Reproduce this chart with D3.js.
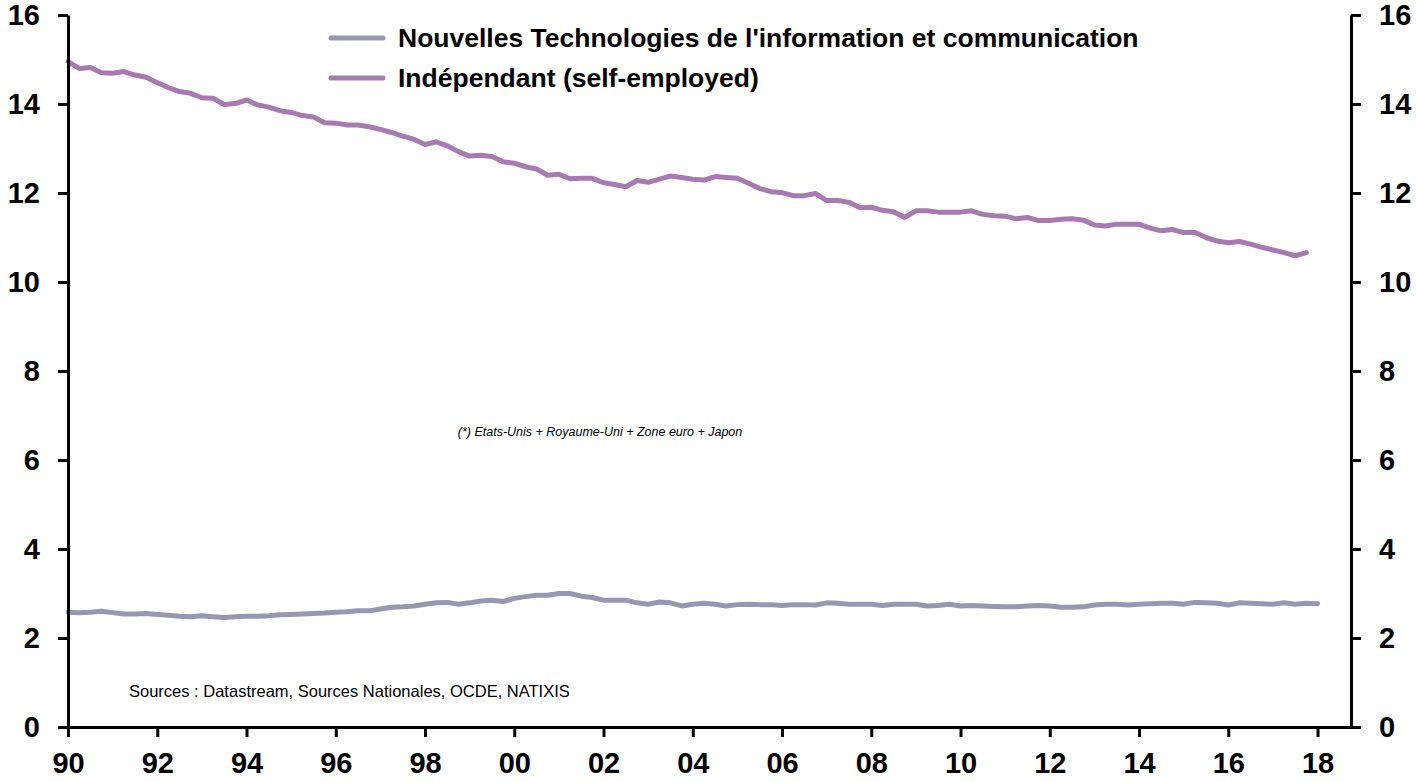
<!DOCTYPE html>
<html>
<head>
<meta charset="utf-8">
<script src="https://cdn.jsdelivr.net/npm/d3@7"></script>
<style>
  body { margin: 0; background: #fff; }
  svg { display: block; font-family: "Liberation Sans", Arial, sans-serif; }
  .axis path, .axis line { stroke: #000; stroke-width: 3; }
  .axis text { font-size: 29px; font-weight: bold; fill: #000; }
  .series { fill: none; stroke-width: 5; stroke-linejoin: round; stroke-linecap: round; }
  .legend text { font-size: 26.5px; font-weight: bold; }
</style>
</head>
<body>
<svg class="chart"></svg>
<script>
const width = 1416;
const height = 782;

// quarterly series, first point = 1990 Q1
const startYear = 1990;

const seriesNames = [
  "Nouvelles Technologies de l'information et communication",
  "Indépendant (self-employed)"
];
const seriesColors = ["#9797b4", "#a77bb1"];

// NTIC share (%), 1990 Q1 - 2018 Q1
const ntic = [
  2.58, 2.57, 2.58, 2.60, 2.57, 2.54, 2.54, 2.55, 2.53, 2.51,
  2.49, 2.48, 2.50, 2.48, 2.46, 2.48, 2.49, 2.49, 2.50, 2.52,
  2.53, 2.54, 2.55, 2.56, 2.58, 2.59, 2.61, 2.61, 2.65, 2.69,
  2.70, 2.72, 2.76, 2.79, 2.80, 2.76, 2.79, 2.83, 2.85, 2.82,
  2.89, 2.93, 2.96, 2.96, 3.00, 3.00, 2.94, 2.91, 2.85, 2.85,
  2.85, 2.79, 2.76, 2.81, 2.79, 2.72, 2.76, 2.78, 2.76, 2.72,
  2.75, 2.76, 2.75, 2.75, 2.73, 2.75, 2.75, 2.74, 2.79, 2.78,
  2.76, 2.76, 2.76, 2.73, 2.76, 2.76, 2.76, 2.72, 2.73, 2.76,
  2.72, 2.73, 2.72, 2.71, 2.70, 2.70, 2.72, 2.73, 2.72, 2.69,
  2.69, 2.70, 2.74, 2.76, 2.76, 2.74, 2.76, 2.77, 2.78, 2.78,
  2.76, 2.80, 2.79, 2.78, 2.74, 2.79, 2.78, 2.77, 2.76, 2.79,
  2.76, 2.78, 2.77
];

// self-employed share (%), 1990 Q1 - 2017 Q4
const selfEmployed = [
  14.95, 14.80, 14.82, 14.70, 14.69, 14.73, 14.65, 14.60, 14.48, 14.37,
  14.28, 14.24, 14.14, 14.13, 13.99, 14.01, 14.09, 13.98, 13.93, 13.85,
  13.81, 13.74, 13.71, 13.58, 13.57, 13.53, 13.53, 13.49, 13.43, 13.36,
  13.28, 13.21, 13.09, 13.15, 13.06, 12.93, 12.83, 12.85, 12.82, 12.70,
  12.67, 12.59, 12.54, 12.40, 12.42, 12.32, 12.33, 12.33, 12.23, 12.19,
  12.14, 12.28, 12.24, 12.31, 12.38, 12.35, 12.31, 12.29, 12.37, 12.35,
  12.33, 12.22, 12.10, 12.03, 12.01, 11.94, 11.94, 11.99, 11.83, 11.83,
  11.79, 11.67, 11.68, 11.61, 11.58, 11.45, 11.60, 11.60, 11.57, 11.57,
  11.57, 11.60, 11.52, 11.49, 11.48, 11.42, 11.45, 11.38, 11.38, 11.41,
  11.42, 11.39, 11.28, 11.26, 11.30, 11.30, 11.30, 11.21, 11.15, 11.18,
  11.11, 11.12, 11.00, 10.92, 10.88, 10.91, 10.85, 10.78, 10.72, 10.66,
  10.59, 10.66
];

const yearTicks = d3.range(1990, 2019, 2);
const valueTicks = [0, 2, 4, 6, 8, 10, 12, 14, 16];

const sourceNote = "Sources : Datastream, Sources Nationales, OCDE, NATIXIS";
const scopeNote = "(*) Etats-Unis + Royaume-Uni + Zone euro + Japon";

const x = d3.scaleLinear()
    .domain([1990, 2018.75])
    .range([68, 1351]);

const y = d3.scaleLinear()
    .domain([0, 16])
    .range([727, 15]);

const svg = d3.select('.chart')
    .attr('width', width)
    .attr('height', height);

const xAxis = d3.axisBottom(x)
    .tickValues(yearTicks)
    .tickSize(10)
    .tickSizeOuter(0)
    .tickPadding(15)
    .tickFormat((d) => d3.format('02d')(d % 100));

const yLeft = d3.axisLeft(y)
    .tickValues(valueTicks)
    .tickSize(10)
    .tickSizeOuter(0)
    .tickPadding(18)
    .tickFormat(d3.format('d'));

const yRight = d3.axisRight(y)
    .tickValues(valueTicks)
    .tickSize(10)
    .tickSizeOuter(0)
    .tickPadding(18)
    .tickFormat(d3.format('d'));

// notes
svg.append('text')
    .attr('x', 129)
    .attr('y', 697)
    .style('font-size', '16.5px')
    .text(sourceNote);

svg.append('text')
    .attr('x', 600)
    .attr('y', 436)
    .attr('text-anchor', 'middle')
    .style('font-size', '12.5px')
    .style('font-style', 'italic')
    .text(scopeNote);

// series
const toPoints = (values) => values.map((v, i) => ({t: startYear + i / 4, v: v}));

const line = d3.line()
    .x((d) => x(d.t))
    .y((d) => y(d.v));

[ntic, selfEmployed].forEach((values, i) => {
  svg.append('path')
      .attr('class', 'series')
      .attr('d', line(toPoints(values)))
      .attr('stroke', seriesColors[i]);
});

// axes
svg.append('g')
    .attr('class', 'axis')
    .attr('transform', `translate(0,${ y(0) })`)
    .call(xAxis);

svg.append('g')
    .attr('class', 'axis')
    .attr('transform', `translate(${ x(1990) },0)`)
    .call(yLeft);

svg.append('g')
    .attr('class', 'axis')
    .attr('transform', `translate(${ x.range()[1] },0)`)
    .call(yRight);

svg.selectAll('.axis text').attr('font-family', null).attr('font-size', null);

// legend
const legend = svg.append('g')
    .attr('class', 'legend')
    .selectAll('g')
    .data(seriesNames)
  .enter().append('g')
    .attr('transform', (d, i) => `translate(331,${ 38 + i * 40 })`);

legend.append('line')
    .attr('x1', 0)
    .attr('x2', 52)
    .attr('stroke', (d, i) => seriesColors[i])
    .attr('stroke-width', 5)
    .attr('stroke-linecap', 'round');

legend.append('text')
    .attr('x', 67)
    .attr('dy', '0.35em')
    .text((d) => d);
</script>
</body>
</html>
